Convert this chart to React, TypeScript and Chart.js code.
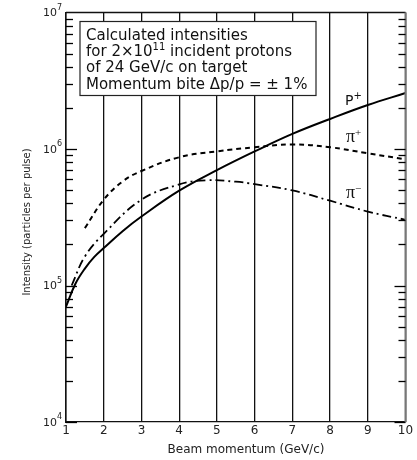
import React, { useEffect, useRef } from "react";
import { Chart, registerables } from "chart.js";

Chart.register(...registerables);

// ---- data ----
const xTicks = [1, 2, 3, 4, 5, 6, 7, 8, 9, 10];
const yDecades = [4, 5, 6, 7];

const pPlusX = [1, 1.25, 1.5, 1.75, 2, 2.5, 3, 4, 5, 6, 7, 8, 9, 10];
const pPlusY = [7.0e4, 1.03e5, 1.33e5, 1.62e5, 1.88e5, 2.5e5, 3.2e5, 4.95e5, 7.0e5, 9.6e5, 1.29e6, 1.66e6, 2.1e6, 2.57e6];

const piPlusX = [1.5, 2, 2.5, 3, 4, 5, 6, 7, 8, 9, 10];
const piPlusY = [2.63e5, 4.25e5, 5.78e5, 6.9e5, 8.7e5, 9.6e5, 1.03e6, 1.08e6, 1.03e6, 9.3e5, 8.4e5];

const piMinusX = [1.15, 1.5, 2, 3, 4, 4.7, 5.5, 6, 7, 8, 9, 10];
const piMinusY = [1.0e5, 1.63e5, 2.39e5, 4.25e5, 5.5e5, 5.9e5, 5.76e5, 5.53e5, 4.97e5, 4.18e5, 3.48e5, 3.03e5];

const boxLines = [
  "Calculated intensities",
  "for 2\u00d710^11 incident protons",
  "of 24 GeV/c on target",
  "Momentum bite \u0394p/p = \u00b1 1%",
];
const xTitle = "Beam momentum (GeV/c)";
const yTitle = "Intensity (particles per pulse)";

const FONT = "'DejaVu Sans', sans-serif";

const zip = (xs: number[], ys: number[]) => xs.map((x, i) => ({ x, y: ys[i] }));

const overlay = {
  id: "overlay",
  afterDraw(chart: any) {
    const ctx = chart.ctx as CanvasRenderingContext2D;
    const { left, right, top, bottom } = chart.chartArea;
    const ys = chart.scales.y;
    ctx.save();

    // top + right frame
    ctx.strokeStyle = "#111";
    ctx.lineWidth = 1.3;
    ctx.beginPath();
    ctx.moveTo(left, top);
    ctx.lineTo(right, top);
    ctx.stroke();
    ctx.strokeStyle = "#777";
    ctx.lineWidth = 2;
    ctx.beginPath();
    ctx.moveTo(right, top);
    ctx.lineTo(right, bottom);
    ctx.stroke();

    // y ticks inward on both sides
    ctx.strokeStyle = "#000";
    ctx.lineWidth = 1.3;
    ctx.setLineDash([]);
    for (const d of [4, 5, 6]) {
      for (let m = 1; m <= 9; m++) {
        const py = Math.round(ys.getPixelForValue(m * Math.pow(10, d))) + 0.5;
        const len = m === 1 ? 11 : 7;
        ctx.beginPath();
        ctx.moveTo(left, py);
        ctx.lineTo(left + len, py);
        ctx.stroke();
        ctx.beginPath();
        ctx.moveTo(right, py);
        ctx.lineTo(right - len, py);
        ctx.stroke();
      }
    }

    // y tick labels 10^n
    ctx.fillStyle = "#222";
    ctx.textBaseline = "middle";
    for (const d of yDecades) {
      const py = ys.getPixelForValue(Math.pow(10, d));
      ctx.font = `8px ${FONT}`;
      ctx.textAlign = "left";
      const ew = ctx.measureText(String(d)).width;
      const ex = left - 4 - ew;
      ctx.fillText(String(d), ex, py - 5);
      ctx.font = `11px ${FONT}`;
      ctx.textAlign = "right";
      ctx.fillText("10", ex, py + 1);
    }

    // axis titles
    ctx.font = `12px ${FONT}`;
    ctx.textAlign = "center";
    ctx.fillText(xTitle, 246, 450);
    ctx.save();
    ctx.translate(27, 222);
    ctx.rotate(-Math.PI / 2);
    ctx.font = `10px ${FONT}`;
    ctx.fillText(yTitle, 0, 0);
    ctx.restore();

    // text box
    ctx.fillStyle = "#fff";
    ctx.fillRect(80, 21.5, 236, 74);
    ctx.strokeStyle = "#222";
    ctx.lineWidth = 1.2;
    ctx.strokeRect(80, 21.5, 236, 74);
    ctx.fillStyle = "#111";
    ctx.textAlign = "left";
    boxLines.forEach((line, i) => {
      const yy = 36 + i * 16.3;
      let x = 86;
      const parts = line.split(/\^(\d+)/);
      parts.forEach((p, j) => {
        if (j % 2 === 1) {
          ctx.font = `10px ${FONT}`;
          ctx.fillText(p, x, yy - 5);
        } else {
          ctx.font = `15px ${FONT}`;
          ctx.fillText(p, x, yy);
        }
        x += ctx.measureText(p).width;
      });
    });

    // curve labels
    ctx.textBaseline = "alphabetic";
    const lbl = (base: string, sup: string, x: number, y: number, serif: boolean) => {
      ctx.font = serif ? `18px 'Liberation Serif', serif` : `14px ${FONT}`;
      ctx.fillText(base, x, y);
      const w = ctx.measureText(base).width;
      ctx.font = serif ? `11px 'Liberation Serif', serif` : `10px ${FONT}`;
      ctx.fillText(sup, x + w, y - 6);
    };
    lbl("P", "+", 345, 105, false);
    lbl("\u03c0", "+", 346, 142, true);
    lbl("\u03c0", "\u2212", 346, 198, true);

    ctx.restore();
  },
};

export default function App() {
  const ref = useRef<HTMLCanvasElement | null>(null);
  useEffect(() => {
    if (!ref.current) return;
    const chart = new Chart(ref.current, {
      type: "scatter",
      data: {
        datasets: [
          {
            data: zip(pPlusX, pPlusY),
            showLine: true,
            borderColor: "#000",
            borderWidth: 2,
            pointRadius: 0,
            tension: 0.4,
          },
          {
            data: zip(piPlusX, piPlusY),
            showLine: true,
            borderColor: "#000",
            borderWidth: 2,
            borderDash: [5, 4],
            pointRadius: 0,
            tension: 0.4,
          },
          {
            data: zip(piMinusX, piMinusY),
            showLine: true,
            borderColor: "#000",
            borderWidth: 1.8,
            borderDash: [9, 4, 2, 4],
            pointRadius: 0,
            tension: 0.4,
          },
        ],
      },
      options: {
        responsive: false,
        animation: false,
        events: [],
        layout: { padding: { top: 12.5, right: 11.5, left: 0, bottom: 0 } },
        plugins: { legend: { display: false }, tooltip: { enabled: false } },
        scales: {
          x: {
            type: "linear",
            min: 1,
            max: 10,
            afterFit: (s: any) => {
              s.height = 38;
            },
            afterBuildTicks: (s: any) => {
              s.ticks = xTicks.map((v) => ({ value: v }));
            },
            ticks: {
              color: "#222",
              font: { family: "'DejaVu Sans', sans-serif", size: 12 },
              padding: 2,
              maxRotation: 0,
            },
            grid: { color: "#111", lineWidth: 1.3, drawTicks: false },
            border: { color: "#111", width: 1.3 },
          },
          y: {
            type: "logarithmic",
            min: 1e4,
            max: 1e7,
            afterFit: (s: any) => {
              s.width = 66;
            },
            ticks: { display: false },
            grid: { display: false, drawTicks: false },
            border: { color: "#111", width: 1.5 },
          },
        },
      },
      plugins: [overlay],
    } as any);
    return () => chart.destroy();
  }, []);
  return (
    <div style={{ position: "absolute", left: 0, top: 0, width: 417, height: 460, background: "#fff" }}>
      <canvas ref={ref} width={417} height={460} />
    </div>
  );
}
